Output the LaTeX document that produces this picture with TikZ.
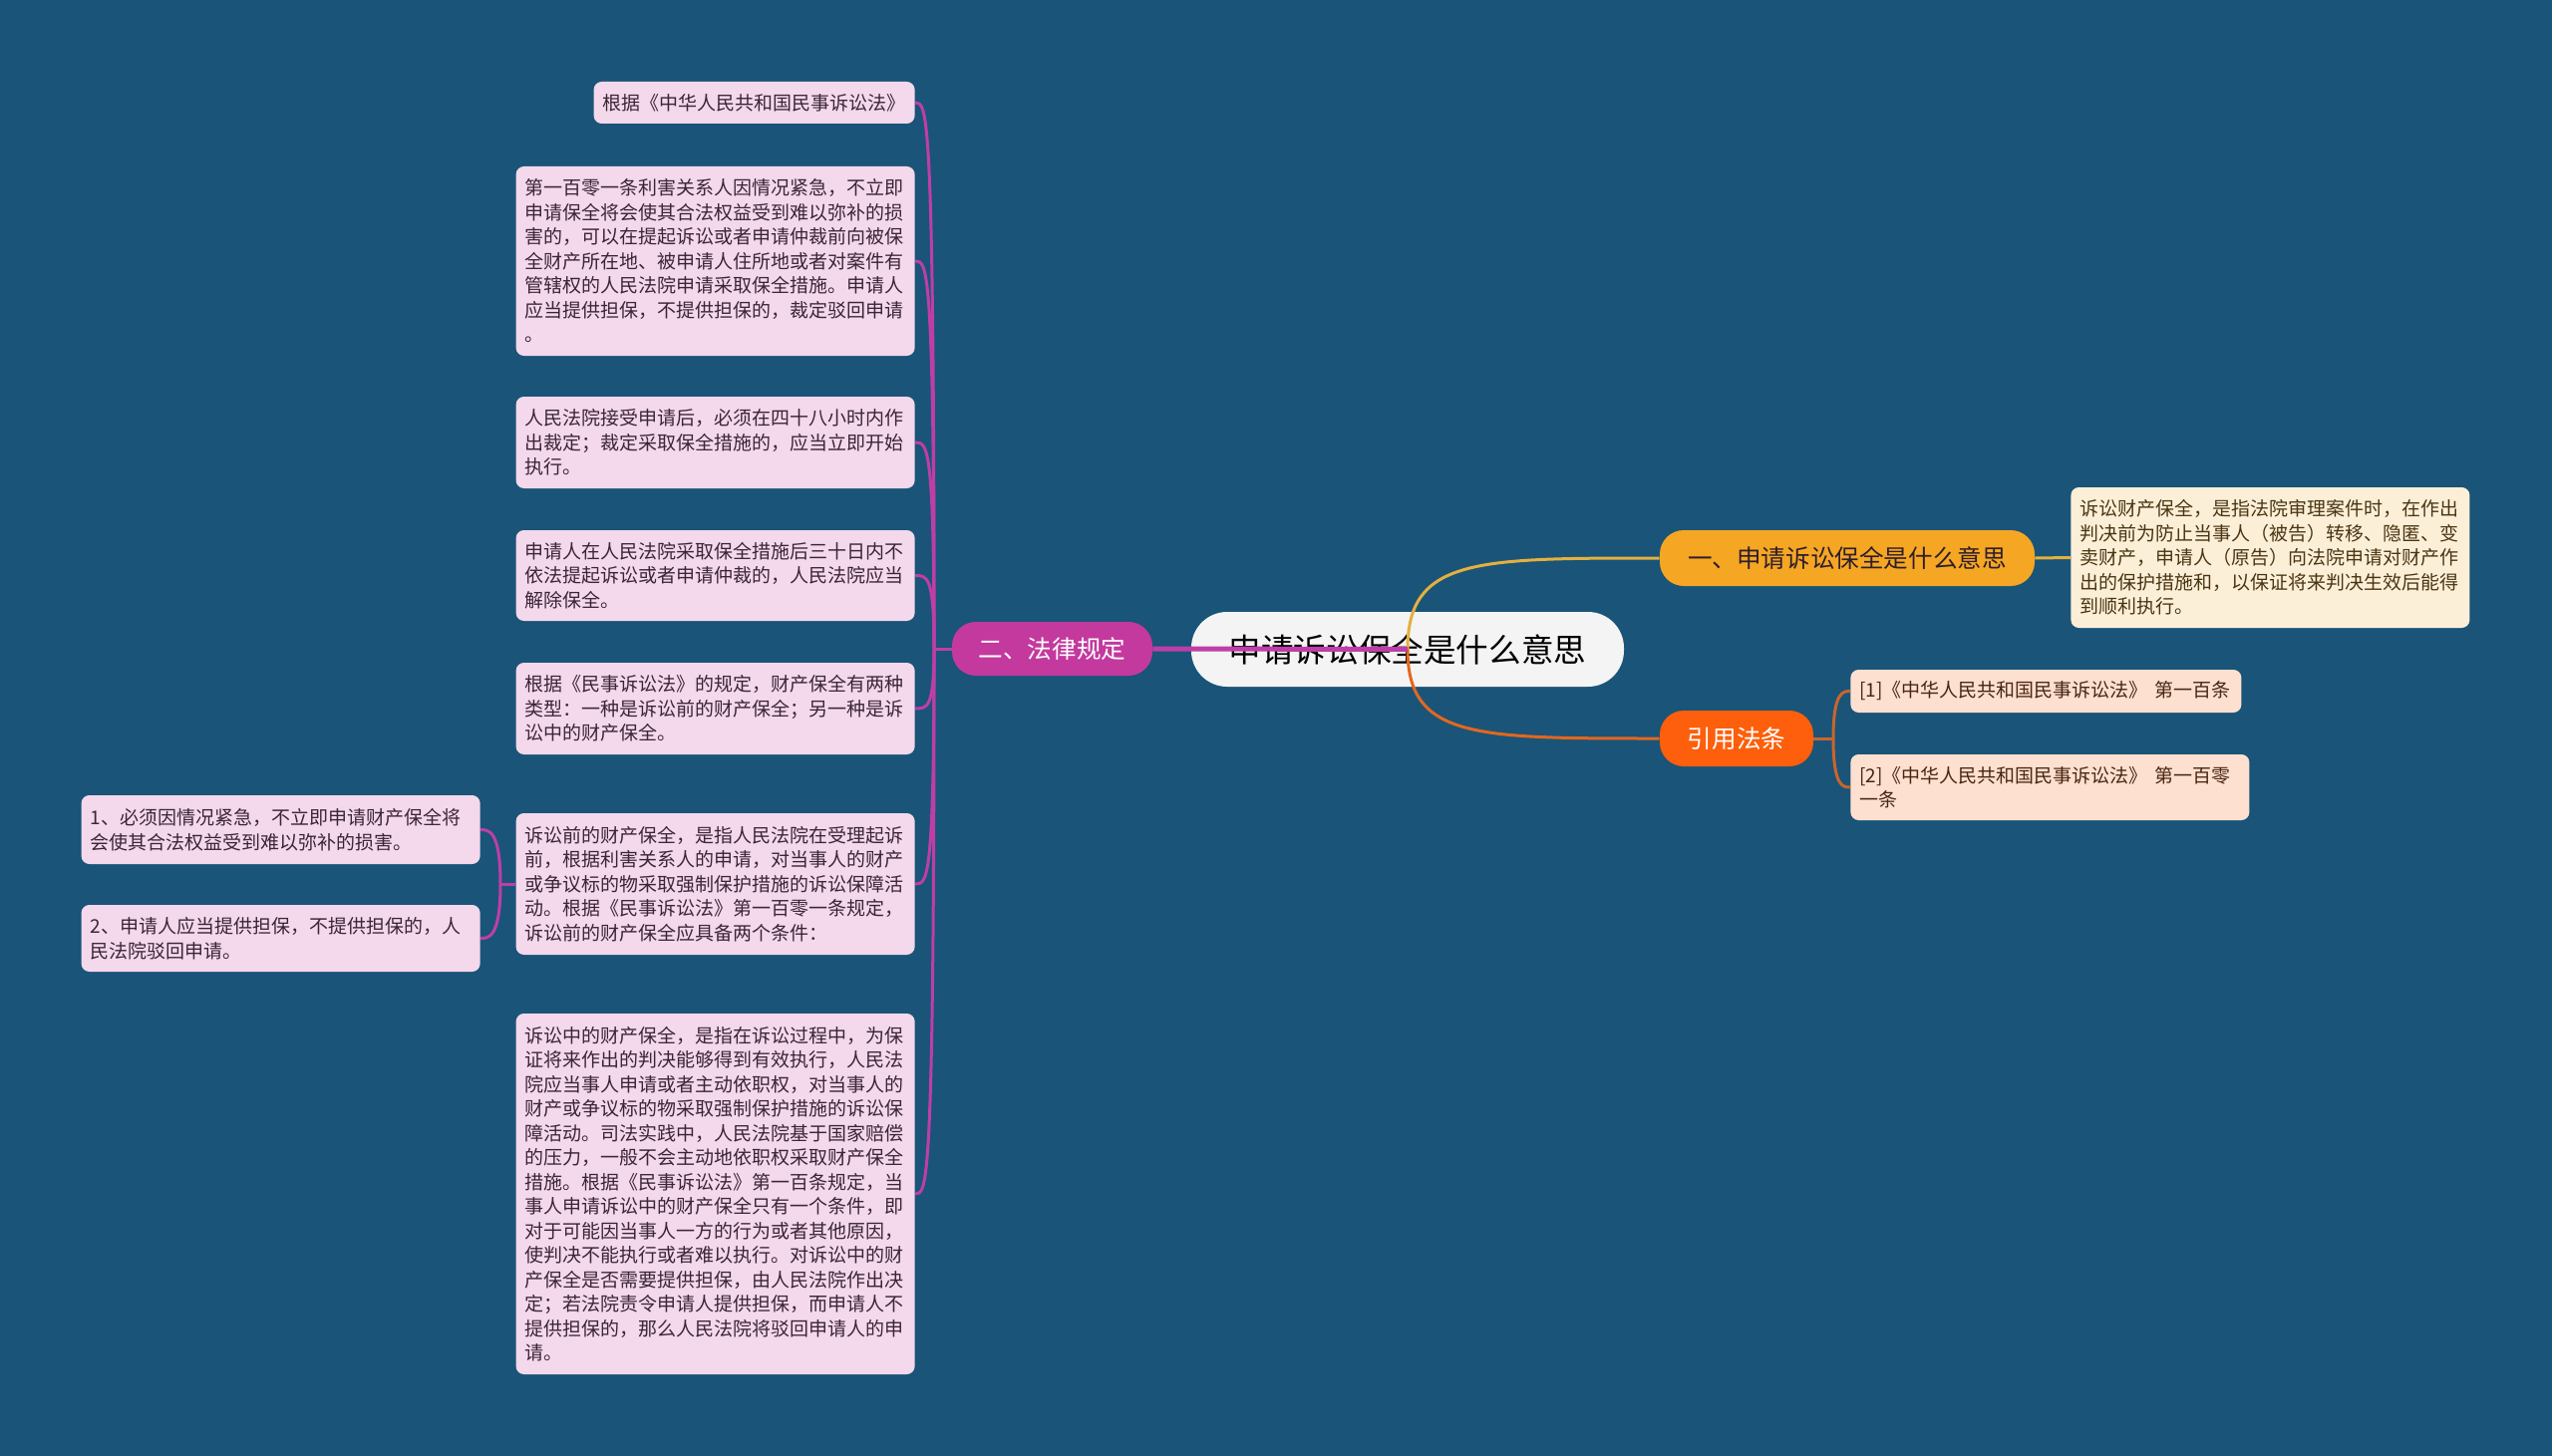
\documentclass[tikz,border=0pt]{standalone}
\usepackage{fontspec}
\setmainfont{Noto Sans CJK SC}
\usetikzlibrary{calc}
\definecolor{cBg}{HTML}{1A5478}
\definecolor{cLeaf}{HTML}{F4D8EC}
\definecolor{cLeafT}{HTML}{3A2635}
\definecolor{cMag}{HTML}{C4399E}
\definecolor{cLink}{HTML}{BE3EA8}
\definecolor{cRoot}{HTML}{F4F4F4}
\definecolor{cGold}{HTML}{F5A623}
\definecolor{cGoldL}{HTML}{E3B040}
\definecolor{cOrg}{HTML}{FD5F0C}
\definecolor{cOrgL}{HTML}{E3671F}
\definecolor{cDesc}{HTML}{FCEFD8}
\definecolor{cDescT}{HTML}{4A3512}
\definecolor{cRef}{HTML}{FDE0D0}
\definecolor{cRefT}{HTML}{4A2512}
\definecolor{cRefL}{HTML}{C8652E}
\tikzset{
  leaf/.style={rounded corners=4pt,fill=cLeaf,text=cLeafT,align=left,
              inner xsep=4.5pt,inner ysep=2pt,font=\fontsize{9.5}{12.25}\selectfont},
  wide/.style={leaf,text width=191pt},
  topic/.style={rounded corners=12pt,inner sep=0pt,minimum height=28pt,
              font=\fontsize{12.3}{14}\selectfont},
  link/.style={cLink,line width=1.5pt},
}
\begin{document}
\begin{tikzpicture}[x=0.5pt,y=-0.5pt]
  \useasboundingbox[fill=cBg] (0,0) rectangle (2560,1461);
  \node[fill=cRoot,rounded corners=18pt,inner sep=0pt,minimum width=217pt,minimum height=37.5pt,
        font=\fontsize{16.3}{18}\selectfont,text=black](root) at (1412,651.5){申请诉讼保全是什么意思};
  \node[topic,fill=cMag,text=white,minimum width=100.5pt,minimum height=27pt](law) at (1055.5,651){二、法律规定};
  \node[topic,fill=cGold,text=cLeafT!80!black,minimum width=188pt](what) at (1853,560){一、申请诉讼保全是什么意思};
  \node[topic,fill=cOrg,text=white,minimum width=77pt](cite) at (1742,741){引用法条};
  %
  \node[leaf,minimum height=21pt,anchor=east](lawA) at (918,103){根据《中华人民共和国民事诉讼法》};
  \node[wide,minimum height=95pt,anchor=east](lawB) at (918,262){第一百零一条利害关系人因情况紧急，不立即\\申请保全将会使其合法权益受到难以弥补的损\\害的，可以在提起诉讼或者申请仲裁前向被保\\全财产所在地、被申请人住所地或者对案件有\\管辖权的人民法院申请采取保全措施。申请人\\应当提供担保，不提供担保的，裁定驳回申请\\。};
  \node[wide,minimum height=46pt,anchor=east](lawC) at (918,444){人民法院接受申请后，必须在四十八小时内作\\出裁定；裁定采取保全措施的，应当立即开始\\执行。};
  \node[wide,minimum height=45.5pt,anchor=east](lawD) at (918,577.5){申请人在人民法院采取保全措施后三十日内不\\依法提起诉讼或者申请仲裁的，人民法院应当\\解除保全。};
  \node[wide,minimum height=46pt,anchor=east](lawE) at (918,711){根据《民事诉讼法》的规定，财产保全有两种\\类型：一种是诉讼前的财产保全；另一种是诉\\讼中的财产保全。};
  \node[wide,minimum height=71pt,anchor=east](lawF) at (918,887){诉讼前的财产保全，是指人民法院在受理起诉\\前，根据利害关系人的申请，对当事人的财产\\或争议标的物采取强制保护措施的诉讼保障活\\动。根据《民事诉讼法》第一百零一条规定，\\诉讼前的财产保全应具备两个条件：};
  \node[wide,minimum height=181pt,anchor=east](lawG) at (918,1198){诉讼中的财产保全，是指在诉讼过程中，为保\\证将来作出的判决能够得到有效执行，人民法\\院应当事人申请或者主动依职权，对当事人的\\财产或争议标的物采取强制保护措施的诉讼保\\障活动。司法实践中，人民法院基于国家赔偿\\的压力，一般不会主动地依职权采取财产保全\\措施。根据《民事诉讼法》第一百条规定，当\\事人申请诉讼中的财产保全只有一个条件，即\\对于可能因当事人一方的行为或者其他原因，\\使判决不能执行或者难以执行。对诉讼中的财\\产保全是否需要提供担保，由人民法院作出决\\定；若法院责令申请人提供担保，而申请人不\\提供担保的，那么人民法院将驳回申请人的申\\请。};
  \node[wide,minimum height=34.5pt,anchor=east](subA) at (482,832.5){1、必须因情况紧急，不立即申请财产保全将\\会使其合法权益受到难以弥补的损害。};
  \node[wide,minimum height=33.5pt,anchor=east](subB) at (482,941.5){2、申请人应当提供担保，不提供担保的，人\\民法院驳回申请。};
  %
  \node[wide,fill=cDesc,text=cDescT,minimum height=70.5pt,anchor=west](desc) at (2077,559.5){诉讼财产保全，是指法院审理案件时，在作出\\判决前为防止当事人（被告）转移、隐匿、变\\卖财产，申请人（原告）向法院申请对财产作\\出的保护措施和，以保证将来判决生效后能得\\到顺利执行。};
  \node[leaf,text width=187pt,fill=cRef,text=cRefT,minimum height=21.5pt,anchor=west](refA) at (1856,693.5){[1]《中华人民共和国民事诉讼法》~第一百条};
  \node[wide,fill=cRef,text=cRefT,minimum height=33pt,anchor=west](refB) at (1856,790){[2]《中华人民共和国民事诉讼法》~第一百零\\一条};
  %
  \coordinate (lk) at (937,651);
  \coordinate (sk) at (502,887);
  \coordinate (rk) at (1839,741);
  \draw[link] (law.west) -- (lk);
  \foreach \n in {lawA,lawB,lawC,lawD,lawE,lawF,lawG}
    \draw[link] (lk) .. controls (lk|-\n.east) and ($(\n.east)+(12,0)$) .. (\n.east);
  \draw[link] (lawF.west) -- (sk);
  \foreach \n in {subA,subB}
    \draw[link] (sk) .. controls (sk|-\n.east) and ($(\n.east)+(8,0)$) .. (\n.east);
  \draw[cRefL,line width=1.5pt] (cite.east) -- (rk);
  \foreach \n in {refA,refB}
    \draw[cRefL,line width=1.5pt] (rk) .. controls (rk|-\n.west) and ($(\n.west)+(-7,0)$) .. (\n.west);
  \draw[cGoldL,line width=1.5pt] (what.east) -- (desc.west);
  \draw[cGoldL,line width=1.5pt] (root.center) .. controls (1412,560) and (1480,560) .. (what.west);
  \draw[cOrgL,line width=1.5pt] (root.center) .. controls (1412,741) and (1480,741) .. (cite.west);
  \draw[cLink,line width=2.5pt] (root.center) -- (law.east);
\end{tikzpicture}
\end{document}
